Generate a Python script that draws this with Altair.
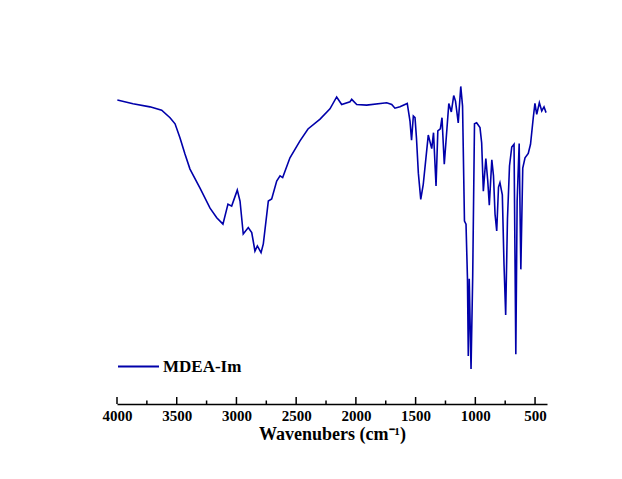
import altair as alt
import pandas as pd

# Wavenumber (cm-1) and transmittance (arbitrary %)
wavenumber = [3997, 3866, 3724, 3626, 3556, 3514, 3473, 3431, 3389, 3305,
              3221, 3165, 3113, 3071, 3040, 2993, 2970, 2943, 2901, 2872,
              2845, 2825, 2794, 2775, 2733, 2705, 2663, 2635, 2613, 2552,
              2468, 2401, 2300, 2217, 2161, 2119, 2049, 2035, 1993, 1910,
              1742, 1700, 1673, 1631, 1570, 1547, 1534, 1519, 1505, 1493,
              1477, 1457, 1436, 1394, 1365, 1350, 1329, 1314, 1293, 1279,
              1260, 1222, 1201, 1181, 1166, 1143, 1122, 1107, 1091, 1078,
              1066, 1059, 1051, 1036, 1022, 1007, 989, 961, 947, 933,
              912, 896, 883, 862, 848, 835, 821, 806, 794, 774,
              760, 746, 731, 714, 695, 676, 661, 650, 633, 619,
              603, 584, 557, 538, 515, 501, 486, 464, 444, 425, 408]
transmittance = [89.4, 88.3, 87.4, 86.4, 84.2, 82.4, 78.3, 73.5, 69.1, 63.5,
                 57.6, 54.8, 52.9, 58.8, 58.2, 62.9, 59.7, 50.0, 51.9, 50.4,
                 45.0, 46.5, 44.5, 47.1, 59.7, 60.3, 65.6, 67.1, 66.6, 72.4,
                 77.4, 80.9, 83.8, 86.8, 90.3, 88.1, 88.9, 89.6, 88.1, 87.9,
                 88.6, 88.1, 87.0, 87.4, 88.4, 83.2, 77.6, 84.7, 84.2, 78.3,
                 67.9, 60.2, 64.6, 79.1, 75.1, 79.8, 64.1, 80.3, 80.9, 84.2,
                 70.5, 88.4, 85.9, 90.7, 89.1, 82.7, 93.4, 87.6, 53.8, 52.9,
                 37.1, 14.1, 36.8, 10.3, 37.6, 82.4, 82.7, 81.3, 76.8, 62.6,
                 72.2, 65.6, 58.5, 71.8, 67.1, 55.8, 50.9, 63.8, 65.1, 61.5,
                 41.1, 26.2, 54.4, 70.0, 75.6, 76.4, 14.6, 59.7, 76.6, 39.6,
                 69.4, 72.4, 73.7, 76.4, 84.2, 88.4, 85.2, 88.6, 86.2, 87.4, 85.7]
series_name = "MDEA-Im"

major_ticks = [4000, 3500, 3000, 2500, 2000, 1500, 1000, 500]
minor_ticks = [3750, 3250, 2750, 2250, 1750, 1250, 750]
tick_labels = [4000, 3500, 3000, 2500, 2000, 1500, 1000, 500]

df = pd.DataFrame({"wn": wavenumber, "T": transmittance,
                   "series": [series_name] * len(wavenumber)})
df_major = pd.DataFrame({"wn": major_ticks})
df_minor = pd.DataFrame({"wn": minor_ticks})

W, H = 430, 340
xscale = alt.Scale(domain=[4000, 400], nice=False, zero=False)
FONT = "Liberation Serif"

line = alt.Chart(df).mark_line(strokeWidth=1.6, interpolate="linear").encode(
    x=alt.X("wn:Q", scale=xscale,
            axis=alt.Axis(values=tick_labels, format="d",
                          title="Wavenubers (cm\u207b\u00b9)",
                          grid=False, ticks=False, domain=True,
                          domainColor="black", domainWidth=1.6,
                          labelFont=FONT, labelFontWeight="bold", labelFontSize=15,
                          labelColor="black", labelPadding=4, labelFlush=False,
                          titleFont=FONT, titleFontWeight="bold", titleFontSize=18,
                          titleColor="black", titlePadding=2)),
    y=alt.Y("T:Q", scale=alt.Scale(domain=[0, 100], nice=False), axis=None),
    color=alt.Color("series:N", scale=alt.Scale(range=["#0000AA"]),
                    legend=alt.Legend(title=None, orient="none", legendX=0, legendY=281,
                                      symbolType="stroke", symbolSize=1681,
                                      symbolStrokeWidth=2, padding=0,
                                      labelFont=FONT, labelFontWeight="bold",
                                      labelFontSize=17, labelColor="black",
                                      labelOffset=3)),
    order=alt.Order("wn:Q", sort="descending"),
)

major = alt.Chart(df_major).mark_rule(color="black", strokeWidth=1.5).encode(
    x=alt.X("wn:Q", scale=xscale),
    y=alt.value(H - 7), y2=alt.value(H),
)
minor = alt.Chart(df_minor).mark_rule(color="black", strokeWidth=1.5).encode(
    x=alt.X("wn:Q", scale=xscale),
    y=alt.value(H - 3.5), y2=alt.value(H),
)

chart = alt.layer(line, major, minor).properties(
    width=W, height=H,
    autosize=alt.AutoSizeParams(type="none"),
    padding={"left": 109, "top": 56, "right": 60, "bottom": 66},
).configure(background="white").configure_view(stroke=None, strokeWidth=0)

chart.save("out.html", embed_options={"renderer": "svg", "actions": False})
